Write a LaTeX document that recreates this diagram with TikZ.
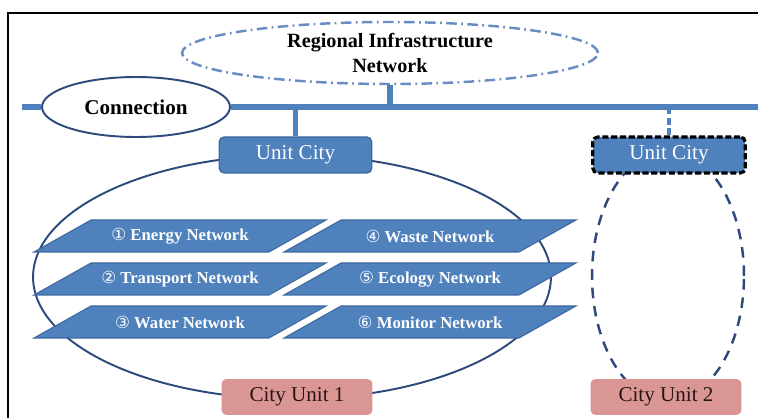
\documentclass[tikz,border=0pt]{standalone}
\usepackage{fontspec}
\setmainfont{Liberation Serif}
\newfontfamily\circfont{DejaVu Sans}
\usetikzlibrary{shapes.geometric}

\definecolor{netblue}{HTML}{4F81BD}
\definecolor{netedge}{HTML}{3E689F}
\definecolor{ringblue}{HTML}{2C4A7C}
\definecolor{dashblue}{HTML}{6A8CC4}
\definecolor{cityred}{HTML}{D99694}
\definecolor{citytext}{HTML}{2A1414}

\newcommand{\cnum}[1]{{\circfont\mdseries #1}}

\tikzset{
  unitbox/.style={rectangle, rounded corners=0.1cm, fill=netblue, draw=netedge,
    line width=0.8pt, minimum width=3.05cm, minimum height=0.72cm, inner sep=0pt,
    text=white, font=\fontsize{12}{14}\selectfont},
  citybox/.style={rectangle, rounded corners=0.1cm, fill=cityred,
    minimum width=3.02cm, minimum height=0.72cm, inner sep=0pt,
    text=citytext, font=\fontsize{12}{14}\selectfont},
  ring/.style={ellipse, draw=ringblue, line width=1.1pt, inner sep=0pt},
  netlabel/.style={text=white, inner sep=0pt, font=\fontsize{9.5}{11}\selectfont\bfseries},
  trunk/.style={netblue, line width=3.4pt}
}

\begin{document}
\begin{tikzpicture}[x=0.02cm, y=-0.02cm]
\useasboundingbox (0,0) rectangle (758,418);
\draw[line width=1.2pt] (8,418) -- (8,13) -- (758,13);

% the two city units
\node[ring, minimum width=10.36cm, minimum height=4.88cm] (ring1) at (292,277) {};
\node[ring, line width=1.4pt, dash pattern=on 6pt off 4.5pt,
  minimum width=3.04cm, minimum height=5cm] (ring2) at (668,276) {};

\foreach \px/\py/\nm/\txt in {180/236/energy/{\cnum{①} Energy Network},
    180/279/transport/{\cnum{②} Transport Network},
    180/322/water/{\cnum{③} Water Network},
    430/236/waste/{\cnum{④} Waste Network},
    430/279/ecology/{\cnum{⑤} Ecology Network},
    430/322/monitor/{\cnum{⑥} Monitor Network}}{
  \fill[netblue, draw=netedge, line width=0.6pt] (\px-146,\py+16) -- (\px-89,\py-16)
    -- (\px+146,\py-16) -- (\px+89,\py+16) -- cycle;
  \node[netlabel] (\nm) at (\px,\py) {\txt};
}

\node[unitbox] (uc1) at (295.5,155) {Unit City};
\node[unitbox, draw=black, line width=1.8pt, dash pattern=on 3.5pt off 1.5pt] (uc2) at (669,155) {Unit City};
\node[citybox] (cu1) at (297,397) {City Unit 1};
\node[citybox] (cu2) at (666,397) {City Unit 2};

% network level
\node[ellipse, draw=dashblue, line width=1.4pt, dash pattern=on 6pt off 2.5pt on 1pt off 2.5pt,
  fill=white, minimum width=8.32cm, minimum height=1.24cm, inner sep=0pt, align=center,
  font=\fontsize{11.5}{14}\selectfont\bfseries] (reg) at (390,53) {Regional Infrastructure\\Network};
\node[ellipse, draw=ringblue, line width=1.1pt, fill=white, minimum width=3.76cm,
  minimum height=1.2cm, inner sep=0pt, font=\fontsize{12}{14}\selectfont\bfseries] (conn) at (136,107) {Connection};

\coordinate (barL) at (22,107);
\coordinate (barR) at (758,107);
\draw[trunk] (barL) -- (conn.west);
\draw[trunk] (conn.east) -- (barR);
\draw[trunk] (reg.south) -- (reg.south |- barR);
\draw[trunk] (uc1.north) -- (uc1.north |- barR);
\draw[netblue, line width=1.8pt, dash pattern=on 4pt off 2pt] (uc2.north) -- (uc2.north |- barR);
\end{tikzpicture}
\end{document}
